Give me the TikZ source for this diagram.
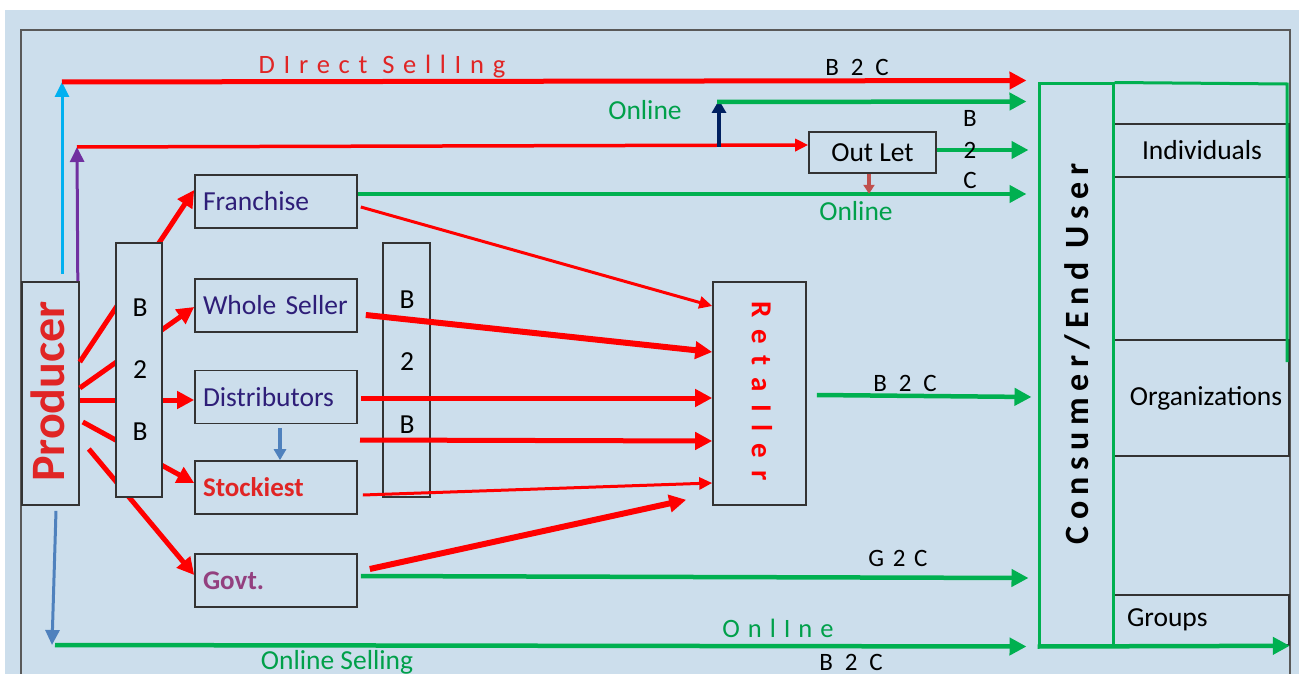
\documentclass[tikz,border=0pt]{standalone}
\usepackage{fontspec}
\setmainfont{Carlito}
\usetikzlibrary{arrows.meta}
\definecolor{bg}{HTML}{CCDEEC}
\definecolor{framec}{HTML}{595959}
\definecolor{myred}{HTML}{FF0000}
\definecolor{mygreen}{HTML}{00B050}
\definecolor{lblue}{HTML}{00B0F0}
\definecolor{mypurple}{HTML}{7030A0}
\definecolor{mynavy}{HTML}{002060}
\definecolor{brick}{HTML}{C0504D}
\definecolor{steel}{HTML}{4F81BD}
\definecolor{indigo}{HTML}{2E1E78}
\definecolor{plum}{HTML}{93407F}
\definecolor{labred}{HTML}{E02525}
\definecolor{labgreen}{HTML}{00A04A}
\definecolor{boxline}{HTML}{333333}
\newcommand\lsp[1]{\addfontfeature{LetterSpace=#1}}
\begin{document}
\begin{tikzpicture}[x=1pt,y=-1pt,
  every node/.style={font=\fontsize{27.5}{32}\selectfont},
  mbox/.style={draw=boxline, line width=1.6pt, fill=bg, text width=146pt, inner xsep=8pt, inner ysep=0pt, minimum height=53pt, align=left},
  pbox/.style={draw=boxline, line width=1.6pt, fill=bg, inner sep=0pt},
  cell/.style={draw=boxline, line width=1.6pt, inner sep=0pt, minimum width=176pt},
  bigtip/.style={-{Triangle[length=17pt,width=17pt]}},
  midtip/.style={-{Triangle[length=15pt,width=14pt]}},
  smalltip/.style={-{Triangle[length=13pt,width=12pt]}},
  rthick/.style={draw=myred, line width=5pt, bigtip},
  rthin/.style={draw=myred, line width=3pt, smalltip},
  gline/.style={draw=mygreen, line width=4.5pt, bigtip},
  lab/.style={inner sep=0pt, text=black},
  bc/.style={lab, font=\fontsize{25}{30}\selectfont\lsp{25}}
]
\useasboundingbox (0,0) rectangle (1299,674);
\fill[white] (0,0) rectangle (1299,674);
\fill[bg] (5,10) rectangle (1299,674);
\draw[framec, line width=2.5pt] (21,674) -- (21,30) -- (1290,30) -- (1290,674);

% boxes
\node[pbox, minimum width=57pt, minimum height=223pt] (prod) at (50.5,393.5) {};
\node[rotate=90, text=labred, font=\fontsize{48}{54}\selectfont\bfseries, inner sep=0pt] (prodtxt) at (48,391.5) {Producer};
\node[mbox, text=indigo] (franchise) at (276,201.5) {Franchise};
\node[mbox, text=indigo] (whole) at (276,305.5) {Whole Seller};
\node[mbox, text=indigo] (dist) at (276,397) {Distributors};
\node[mbox, text=labred, font=\fontsize{27}{32}\selectfont\bfseries] (stock) at (276,487.5) {Stockiest};
\node[mbox, text=plum, font=\fontsize{27}{32}\selectfont\bfseries] (govt) at (276,580.5) {Govt.};
\node[pbox, minimum width=47pt, minimum height=254pt] (bb2) at (406.5,370) {};
\node[lab] (bb2a) at (407,300) {B};
\node[lab] (bb2b) at (407,362) {2};
\node[lab] (bb2c) at (407,425) {B};
\node[pbox, minimum width=93pt, minimum height=223pt] (ret) at (759.5,393.5) {};
\node[rotate=-90, text=myred, font=\fontsize{29}{33}\selectfont\bfseries\lsp{42}, inner sep=0pt] (rettxt) at (762,391) {RetaIler};
\node[pbox, minimum width=127pt, minimum height=41pt] (outlet) at (872.5,152.5) {Out Let};

% right column cells
\node[cell, minimum height=53pt] (indiv) at (1201,150.5) {\hspace*{2pt}Individuals};
\node[cell, minimum height=116pt] (org) at (1201,398) {\hspace*{10pt}Organizations};
\node[cell, minimum height=50pt, text width=160pt, inner xsep=8pt, align=left] (groups) at (1201,620) {\hspace*{6pt}Groups};
\draw[boxline, line width=1.6pt] (1113,340) -- (1289,340);
\node[draw=mygreen, line width=3pt, inner sep=0pt, minimum width=74pt, minimum height=561pt] (cons) at (1076,364.5) {};
\node[rotate=90, font=\fontsize{34}{38}\selectfont\bfseries\lsp{19}, inner sep=0pt] (constxt) at (1077,354) {Consumer/End User};
\draw[mygreen, line width=3pt] (cons.north east) -- (1287,84) -- (1287,362);

% producer to intermediaries
\draw[rthick] ([yshift=31.5pt]prod.east) -- ([yshift=11.5pt]franchise.west);
\draw[rthick] ([yshift=5.5pt]prod.east) -- ([yshift=-1.5pt]whole.west);
\draw[rthick] ([yshift=-6.5pt]prod.east) -- ([yshift=-3pt]dist.west);
\draw[rthick] ([xshift=3pt,yshift=-28.5pt]prod.east) -- ([yshift=4.5pt]stock.west);
\draw[rthick] ([xshift=9pt,yshift=-55.5pt]prod.east) -- ([yshift=5.5pt]govt.west);
\node[pbox, minimum width=46pt, minimum height=254pt] (bb1) at (139,370) {};
\node[lab] (bb1a) at (140,308) {B};
\node[lab] (bb1b) at (140,370) {2};
\node[lab] (bb1c) at (140,432) {B};

% distributors to stockiest
\draw[steel, line width=3.5pt, -{Triangle[length=11pt,width=12pt]}] ([xshift=4pt,yshift=-4pt]dist.south) -- ([xshift=4pt]stock.north);

% to retailer
\draw[rthin] ([xshift=3pt,yshift=-5.5pt]franchise.east) -- ([yshift=87.5pt]ret.west);
\draw[draw=myred, line width=6pt, bigtip] ([xshift=8pt,yshift=-9.5pt]whole.east) -- ([yshift=41.5pt]ret.west);
\draw[rthick] ([xshift=3pt,yshift=-1pt]dist.east) -- ([yshift=-4.5pt]ret.west);
\coordinate (sd) at (360,440);
\draw[rthick] (sd) -- ([yshift=-47.5pt]ret.west);
\draw[rthin] ([xshift=5pt,yshift=-7.5pt]stock.east) -- ([yshift=-89.5pt]ret.west);
\draw[draw=myred, line width=6pt, bigtip] ([xshift=12pt,yshift=11.5pt]govt.east) -- ([xshift=-26pt,yshift=6pt]ret.south west);

% to consumer
\draw[gline] ([xshift=3pt,yshift=4.5pt]govt.east) -- ([xshift=-9pt,yshift=-213.5pt]cons.west);
\draw[gline] ([xshift=10pt,yshift=-1.5pt]ret.east) -- ([xshift=-6pt,yshift=-32.5pt]cons.west);
\draw[gline] ([yshift=7.5pt]franchise.east) -- ([xshift=-11pt,yshift=170.5pt]cons.west);
\draw[gline] ([yshift=2.5pt]outlet.east) -- ([xshift=-9pt,yshift=214.5pt]cons.west);
\draw[brick, line width=3.5pt, -{Triangle[length=9pt,width=11pt]}] ([xshift=-3.5pt]outlet.south) -- ++(0,20);

% top routes
\coordinate (ds) at (62,82);
\draw[lblue, line width=3pt, midtip] ([xshift=11.5pt,yshift=7pt]prod.north) -- (ds);
\draw[rthick] (ds) -- ([xshift=-11pt,yshift=2pt]cons.north west);
\coordinate (os) at (77,147);
\draw[mypurple, line width=3pt, midtip] ([xshift=-2pt]prod.north east) -- (os);
\draw[draw=myred, line width=3.5pt, smalltip] (os) -- ([yshift=7.5pt]outlet.west);
\coordinate (n1) at (719,147);
\coordinate (n2) at (719,100);
\draw[mynavy, line width=3.5pt, -{Triangle[length=13pt,width=14pt]}] (n1) -- (n2);
\coordinate (n3) at (717,102);
\draw[gline] (n3) -- ([xshift=-11pt,yshift=-19pt]cons.north west);

% bottom routes
\coordinate (bs) at (52,645);
\draw[steel, line width=3pt, midtip] ([xshift=5.5pt,yshift=-5pt]prod.south) -- (bs);
\draw[gline] ([xshift=3pt]bs) -- ([xshift=-11pt]cons.south west);
\draw[gline] (cons.south west) -- (groups.south east);

% labels
\node[lab, text=labred, font=\fontsize{26.5}{30}\selectfont\lsp{33}] (l1) at (382,67) {DIrect SellIng};
\node[bc] (l2) at (857,67) {B 2 C};
\node[lab, text=labgreen] (l3) at (645,110) {Online};
\node[lab, font=\fontsize{25}{30}\selectfont] (l4) at (970,118) {B};
\node[lab, font=\fontsize{25}{30}\selectfont] (l5) at (970,150) {2};
\node[lab, font=\fontsize{25}{30}\selectfont] (l6) at (970,180) {C};
\node[lab, text=labgreen] (l7) at (856,211) {Online};
\node[bc] (l8) at (905,383) {B 2 C};
\node[lab, font=\fontsize{25}{30}\selectfont\lsp{12}] (l9) at (898,558) {G 2 C};
\node[lab, text=labgreen, font=\fontsize{26.5}{30}\selectfont\lsp{30}] (l10) at (778,628) {OnlIne};
\node[lab, text=labgreen] (l11) at (337,662) {Online Selling};
\node[bc] (l12) at (851,662) {B 2 C};
\end{tikzpicture}
\end{document}
